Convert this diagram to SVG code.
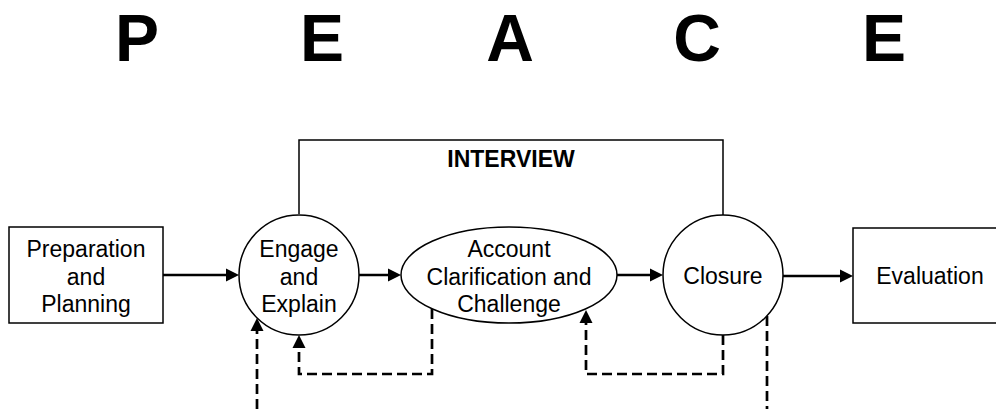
<svg xmlns="http://www.w3.org/2000/svg" width="996" height="409" viewBox="0 0 996 409">
<style>
.node{fill:#fff;stroke:#000;stroke-width:1.5}
.t{font-family:"Liberation Sans",Arial,sans-serif;font-size:23px;text-anchor:middle;fill:#000}
.title{font-family:"Liberation Sans",Arial,sans-serif;font-size:66px;font-weight:bold;text-anchor:middle;fill:#000}
.lbl{font-family:"Liberation Sans",Arial,sans-serif;font-size:23px;font-weight:bold;text-anchor:middle;fill:#000}
.solid{fill:none;stroke:#000;stroke-width:2.5}
.dash{fill:none;stroke:#000;stroke-width:2.7;stroke-dasharray:10,5}
.frame{fill:none;stroke:#000;stroke-width:1.5}
</style>
<defs>
<marker id="ah" markerUnits="userSpaceOnUse" markerWidth="14" markerHeight="14" refX="0" refY="6.5" orient="auto" overflow="visible">
<path d="M0,0 L13,6.5 L0,13 z" fill="#000"/>
</marker>
</defs>
<g id="title">
<text class="title" x="137" y="61">P</text>
<text class="title" x="322" y="61">E</text>
<text class="title" x="510" y="61">A</text>
<text class="title" x="697" y="61">C</text>
<text class="title" x="884" y="61">E</text>
</g>
<g id="interview">
<polyline class="frame" points="299,214 299,140 723,140 723,215"/>
<text class="lbl" x="511" y="167">INTERVIEW</text>
</g>
<g id="connectors">
<path class="solid" d="M163,275 H226" marker-end="url(#ah)"/>
<path class="solid" d="M359,275 H388" marker-end="url(#ah)"/>
<path class="solid" d="M617,275 H650" marker-end="url(#ah)"/>
<path class="solid" d="M783,276 H840" marker-end="url(#ah)"/>
<path class="dash" d="M432,309 V374 H299 V348" marker-end="url(#ah)"/>
<path class="dash" d="M723,335 V374 H586 V323" marker-end="url(#ah)"/>
<path class="dash" d="M257,409 V331" marker-end="url(#ah)"/>
<path class="dash" d="M767,316 V409"/>
</g>
<g id="preparation">
<rect class="node" x="9" y="227" width="154" height="96"/>
<text class="t" x="86" y="257">Preparation</text>
<text class="t" x="86" y="284.5">and</text>
<text class="t" x="86" y="312">Planning</text>
</g>
<g id="engage">
<circle class="node" cx="299" cy="275" r="60"/>
<text class="t" x="299" y="257">Engage</text>
<text class="t" x="299" y="284.5">and</text>
<text class="t" x="299" y="312">Explain</text>
</g>
<g id="account">
<ellipse class="node" cx="509" cy="275" rx="108" ry="48"/>
<text class="t" x="509" y="257">Account</text>
<text class="t" x="509" y="284.5">Clarification and</text>
<text class="t" x="509" y="312">Challenge</text>
</g>
<g id="closure">
<circle class="node" cx="723" cy="275" r="60"/>
<text class="t" x="723" y="284">Closure</text>
</g>
<g id="evaluation">
<rect class="node" x="853" y="228" width="154" height="95"/>
<text class="t" x="930" y="284">Evaluation</text>
</g>
</svg>
